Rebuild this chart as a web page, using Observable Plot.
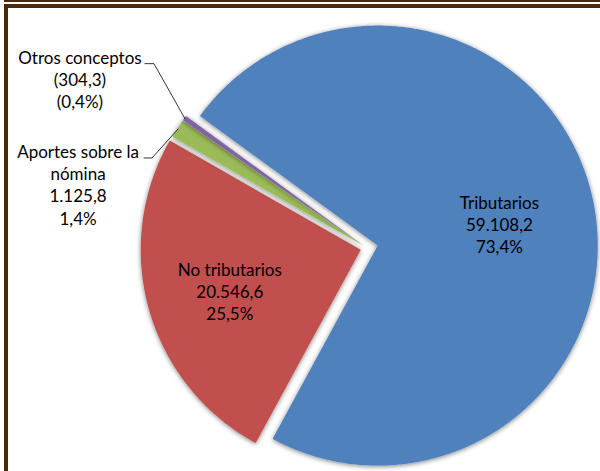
<!DOCTYPE html>
<html>
<head>
<meta charset="utf-8">
<script src="https://cdn.jsdelivr.net/npm/d3@7"></script>
<script src="https://cdn.jsdelivr.net/npm/@observablehq/plot@0.6"></script>
<style>
  html, body { margin: 0; padding: 0; background: #fff; }
  #wrap { position: relative; width: 600px; height: 471px; overflow: hidden; }
  #chart svg { display: block; }
  .frame-thin { position: absolute; left: 4px; top: 0; width: 596px; height: 1.5px; background: #4b2909; }
  .frame { position: absolute; left: 4px; top: 4px; width: 596px; height: 467px;
           border-left: 4px solid #4b2909; border-top: 4px solid #4b2909; box-sizing: border-box; }
</style>
</head>
<body>
<div id="wrap">
  <div id="chart"></div>
  <div class="frame-thin"></div>
  <div class="frame"></div>
</div>
<script>
// ---- data ----
const categories = ["Tributarios", "No tributarios", "Aportes sobre la nómina", "Otros conceptos"];
const values = [59108.2, 20546.6, 1125.8, 304.3];
const nameLabels = ["Tributarios", "No tributarios", "Aportes sobre la\nnómina", "Otros conceptos"];
const valueLabels = ["59.108,2", "20.546,6", "1.125,8", "(304,3)"];
const percentLabels = ["73,4%", "25,5%", "1,4%", "(0,4%)"];
const colors = ["#4F81BD", "#C0504D", "#9BBB59", "#8064A2"];

// ---- layout ----
const W = 600, H = 471;
const R = 220;               // pie radius in px
const CX = 367, CY = 248;    // pie centre in px
const startDeg = 306.1;      // angle of first slice
const explodePx = [11, 6.5, 4, 4];
const FONT = "Lato, 'Open Sans', sans-serif";
const FS = 17;

const xDomain = [-CX / R, (W - CX) / R];
const yDomain = [-(H - CY) / R, CY / R];

const pie = d3.pie().sort(null).value(d => d)
  .startAngle(startDeg * Math.PI / 180)
  .endAngle(startDeg * Math.PI / 180 + 2 * Math.PI);
const arcs = pie(values);

function pt(i, a, d) {
  const mid = (arcs[i].startAngle + arcs[i].endAngle) / 2;
  const e = explodePx[i] / R;
  return [e * Math.sin(mid) + d * Math.sin(a), e * Math.cos(mid) + d * Math.cos(a)];
}
function midPt(i, d) {
  const mid = (arcs[i].startAngle + arcs[i].endAngle) / 2;
  return pt(i, mid, d);
}

// each slice: arc points (x1,y1) closed back to its own apex (x2,y2)
const slicePts = [];
arcs.forEach((a, i) => {
  const apex = pt(i, 0, 0);
  const n = Math.max(2, Math.ceil((a.endAngle - a.startAngle) / (Math.PI / 360)));
  for (let k = 0; k <= n; k++) {
    const t = a.startAngle + (a.endAngle - a.startAngle) * k / n;
    const p = pt(i, t, 1);
    slicePts.push({x: p[0], y: p[1], ax: apex[0], ay: apex[1], k: categories[i]});
  }
});

// inner labels
const inner = [
  {i: 0, frac: 0.56, dx: 1, dy: 5},
  {i: 1, frac: 0.64, dx: 4, dy: 2}
].map(o => {
  const [x, y] = midPt(o.i, o.frac);
  return {x, y, dx: o.dx, dy: o.dy, text: nameLabels[o.i] + "\n" + valueLabels[o.i] + "\n" + percentLabels[o.i]};
});

// outer labels with leaders
const outerCfg = [
  {i: 3, ex: -31, ey: -55, tail: 9, tx: -65, ty: 15.6},
  {i: 2, ex: -26, ey: 29, tail: 8, tx: -66, ty: 26.4}
];
const leaders = [];
const outerText = [];
outerCfg.forEach(o => {
  const end = midPt(o.i, 1);
  const elbow = [end[0] + o.ex / R, end[1] - o.ey / R];
  const tailEnd = [elbow[0] - o.tail / R, elbow[1]];
  [end, elbow, tailEnd].forEach(p => leaders.push({x: p[0], y: p[1], k: o.i}));
  outerText.push({x: tailEnd[0], y: tailEnd[1], dx: o.tx, dy: o.ty,
    text: nameLabels[o.i] + "\n" + valueLabels[o.i] + "\n" + percentLabels[o.i]});
});

const textMarks = [...inner, ...outerText].map(d =>
  Plot.text([d], {x: "x", y: "y", text: "text", dx: d.dx, dy: d.dy,
    fontSize: FS, fontFamily: FONT, lineHeight: 1.3, fill: "#000", textAnchor: "middle", lineAnchor: "middle"})
);

const plot = Plot.plot({
  width: W, height: H, margin: 0,
  x: {domain: xDomain, axis: null},
  y: {domain: yDomain, axis: null},
  color: {domain: categories, range: colors},
  style: {fontFamily: FONT, background: "#fff"},
  marks: [
    Plot.area(slicePts, {x1: "x", y1: "y", x2: "ax", y2: "ay", z: "k", fill: "k"}),
    Plot.line(leaders, {x: "x", y: "y", z: "k", stroke: "#000", strokeWidth: 0.8}),
    ...textMarks
  ]
});

// soft shadow filter for slices
const ns = "http://www.w3.org/2000/svg";
const defs = document.createElementNS(ns, "defs");
defs.innerHTML = `<filter id="soft" x="-20%" y="-20%" width="140%" height="140%">
  <feGaussianBlur in="SourceAlpha" stdDeviation="2.5"/>
  <feOffset dx="-0.5" dy="0.5" result="b"/>
  <feComponentTransfer><feFuncA type="linear" slope="0.5"/></feComponentTransfer>
  <feMerge><feMergeNode/><feMergeNode in="SourceGraphic"/></feMerge>
</filter>`;
plot.insertBefore(defs, plot.firstChild);
plot.querySelectorAll('g[aria-label="area"] path').forEach(p => p.setAttribute("filter", "url(#soft)"));
document.getElementById("chart").appendChild(plot);
</script>
</body>
</html>
